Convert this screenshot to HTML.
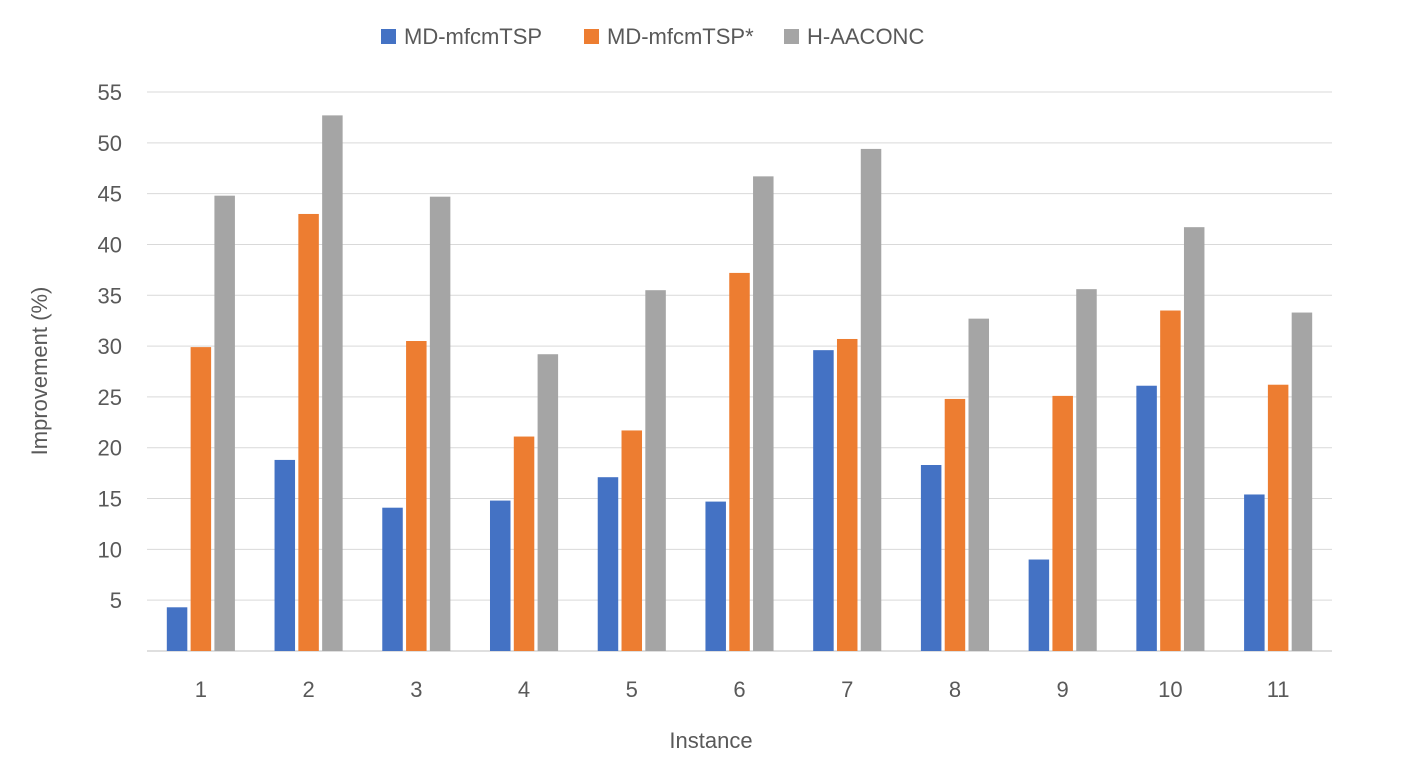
<!DOCTYPE html>
<html><head><meta charset="utf-8"><style>
body{margin:0;background:#fff;}
svg{display:block;font-family:"Liberation Sans",sans-serif;}
</style></head><body>
<svg id="chart" width="1413" height="779">
<g id="legend">
<g><rect x="381" y="29" width="15" height="15" fill="#4472C4"/><text x="404" y="44" font-size="22" fill="#595959">MD-mfcmTSP</text></g>
<g><rect x="584" y="29" width="15" height="15" fill="#ED7D31"/><text x="607" y="44" font-size="22" fill="#595959">MD-mfcmTSP*</text></g>
<g><rect x="784" y="29" width="15" height="15" fill="#A5A5A5"/><text x="807" y="44" font-size="22" fill="#595959">H-AACONC</text></g>
</g>
<g id="grid"></g><g id="bars"></g><g id="xt"></g>
<text transform="translate(47,371) rotate(-90)" text-anchor="middle" font-size="22" fill="#595959">Improvement (%)</text>
<text x="711" y="748" text-anchor="middle" font-size="22" fill="#595959">Instance</text>
</svg>
<script>
const categories=["1","2","3","4","5","6","7","8","9","10","11"];
const mdValues=[4.3,18.8,14.1,14.8,17.1,14.7,29.6,18.3,9.0,26.1,15.4];
const mdStarValues=[29.9,43.0,30.5,21.1,21.7,37.2,30.7,24.8,25.1,33.5,26.2];
const hValues=[44.8,52.7,44.7,29.2,35.5,46.7,49.4,32.7,35.6,41.7,33.3];
const yTicks=[5,10,15,20,25,30,35,40,45,50,55];
const NS="http://www.w3.org/2000/svg";
const x0=147,x1=1332,yBase=651,yTop=92,yMax=55;
const y=v=>yBase-(v/yMax)*(yBase-yTop);
const band=(x1-x0)/categories.length;
const xc=i=>x0+band*(i+0.5);
function mk(t,a,p){const e=document.createElementNS(NS,t);for(const k in a)e.setAttribute(k,a[k]);p.appendChild(e);return e;}
const grid=document.getElementById('grid');
yTicks.forEach(t=>{
 const l=mk('line',{x1:x0,x2:x1,y1:y(t),y2:y(t),stroke:'#D9D9D9','stroke-width':1},grid);
 
 
 const tx=mk('text',{x:122,y:y(t)+8,'text-anchor':'end','font-size':22,fill:'#595959'},grid);
 tx.textContent=t;
 
 
});
const ax=mk('line',{x1:x0,x2:x1,y1:yBase,y2:yBase,stroke:'#BFBFBF','stroke-width':1},grid);


const series=[[mdValues,'#4472C4','md'],[mdStarValues,'#ED7D31','mdstar'],[hValues,'#A5A5A5','h']];
const bw=20.5,gap=3.3;
const bars=document.getElementById('bars'),xt=document.getElementById('xt');
categories.forEach((c,i)=>{
 series.forEach((s,j)=>{
  const bx=xc(i)+(j-1)*(bw+gap)-bw/2;
  const r=mk('rect',{x:bx,y:y(s[0][i]),width:bw,height:yBase-y(s[0][i]),fill:s[1]},bars);
  
  
 });
 const t=mk('text',{x:xc(i),y:697,'text-anchor':'middle','font-size':22,fill:'#595959'},xt);
 t.textContent=c;
 
 
});
</script>
</body></html>
